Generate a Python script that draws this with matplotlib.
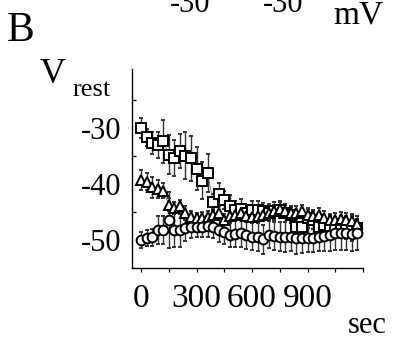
import numpy as np
import matplotlib.pyplot as plt

plt.rcParams['font.family'] = ['Liberation Serif', 'DejaVu Serif']

# time points (sec)
t = np.arange(0, 1200, 30)

# V_rest (mV)
squares = [-30.0, -31.7, -32.7, -33.0, -32.4, -34.8, -35.4, -34.1, -35.0, -35.4,
           -37.3, -39.4, -38.1, -43.3, -41.8, -42.8, -43.9, -44.6, -44.5, -45.2,
           -44.6, -44.6, -44.9, -45.1, -44.9, -44.6, -45.2, -45.5, -47.7, -47.6,
           -46.1, -46.4, -47.6, -47.3, -47.5, -47.6, -47.9, -48.1, -48.3, -47.9]
sq_err = [1.8, 1.5, 2.0, 2.3, 3.8, 3.5, 3.2, 3.0, 4.2, 4.0,
          3.8, 3.3, 3.4, 1.5, 2.0, 1.6, 2.0, 1.6, 1.8, 1.5,
          1.5, 1.6, 1.5, 1.5, 1.6, 1.5, 1.6, 1.5, 1.8, 1.6,
          1.7, 1.6, 1.8, 1.7, 1.8, 1.6, 1.7, 1.8, 1.8, 1.7]

triangles = [-39.3, -39.6, -40.6, -40.9, -41.2, -43.7, -44.3, -43.9, -45.2, -45.9,
             -46.1, -46.0, -45.9, -45.5, -45.1, -46.4, -45.8, -45.5, -45.2, -45.8,
             -45.9, -45.8, -45.5, -45.2, -44.9, -44.5, -44.9, -45.2, -45.1, -44.9,
             -45.5, -45.7, -45.5, -46.1, -46.5, -46.4, -46.3, -46.5, -46.7, -47.1]
tr_err = [1.8, 1.5, 1.9, 1.6, 1.4, 1.1, 1.0, 1.1, 1.2, 1.0,
          1.0, 1.0, 1.1, 1.1, 1.2, 1.0, 1.1, 1.1, 1.2, 1.0,
          1.0, 1.1, 1.1, 1.2, 1.1, 1.2, 1.1, 1.1, 1.2, 1.1,
          1.2, 1.1, 1.2, 1.3, 1.2, 1.3, 1.3, 1.4, 1.3, 1.3]

circles = [-50.0, -49.7, -49.5, -48.3, -48.3, -46.5, -48.2, -48.3, -47.9, -47.6,
           -47.7, -47.7, -47.5, -47.6, -48.2, -48.5, -49.1, -48.9, -48.8, -49.1,
           -49.4, -49.5, -49.9, -49.1, -49.3, -49.4, -49.5, -49.4, -49.7, -49.7,
           -49.6, -49.6, -49.4, -49.3, -49.1, -48.8, -48.7, -48.8, -48.9, -48.8]
ci_err = [1.5, 1.4, 1.5, 2.5, 2.5, 5.0, 3.0, 3.0, 2.2, 2.0,
          1.8, 1.8, 1.9, 2.0, 2.2, 2.3, 2.2, 2.3, 2.4, 2.5,
          2.4, 2.5, 2.6, 2.4, 2.5, 2.6, 2.7, 2.6, 2.8, 2.7,
          2.6, 2.5, 2.6, 2.7, 2.8, 2.9, 3.0, 3.0, 3.1, 3.0]

W, H = 397, 343
fig = plt.figure(figsize=(W / 100, H / 100), dpi=100)
ax = fig.add_axes([132 / W, 1 - 268 / H, (363 - 132) / W, (268 - 69) / H])

series = [(squares, sq_err, 's', 6.5), (triangles, tr_err, '^', 7), (circles, ci_err, 'o', 7)]
for vals, errs, mk, ms in series:
    ax.errorbar(t, vals, yerr=errs, fmt=mk, ms=ms, mfc='white', mec='black',
                mew=1.4, ecolor='#333333', elinewidth=1.0, capsize=1.5,
                capthick=0.9, ls='-', lw=0.5, color='#555555')

ax.set_xlim(-49, 1200)
ax.set_ylim(-55, -19.5)

for s in ['top', 'right']:
    ax.spines[s].set_visible(False)
ax.spines['left'].set_linewidth(1.0)
ax.spines['bottom'].set_linewidth(1.0)

ax.set_xticks([0, 300, 600, 900, 1200])
ax.set_xticklabels(['0', '300', '600', '900', ''])
ax.set_xticks([150, 450, 750, 1050], minor=True)
ax.tick_params(axis='x', which='both', direction='out', length=3, width=0.9,
               labelsize=24, pad=8)

ax.set_yticks([-50, -40, -30])
ax.set_yticklabels(['-50', '-40', '-30'])
ax.set_yticks([-45, -35, -25], minor=True)
ax.tick_params(axis='y', which='major', length=0, labelsize=22, pad=8)
ax.tick_params(axis='y', which='minor', direction='in', length=3, width=0.9)

# labels around the panel
fig.text(7 / W, 1 - 41 / H, 'B', fontsize=30, va='baseline', ha='left')
fig.text(190 / W, 1 - 12 / H, '-30', fontsize=22, va='baseline', ha='center')
fig.text(283 / W, 1 - 12 / H, '-30', fontsize=22, va='baseline', ha='center')
fig.text(358 / W, 1 - 23 / H, 'mV', fontsize=24, va='baseline', ha='center')
fig.text(40 / W, 1 - 83 / H, 'V', fontsize=26, va='baseline', ha='left')
fig.text(73 / W, 1 - 96 / H, 'rest', fontsize=19, va='baseline', ha='left')
fig.text(387 / W, 1 - 333 / H, 'sec', fontsize=22, va='baseline', ha='right')

fig.savefig('out.png', dpi=100)
